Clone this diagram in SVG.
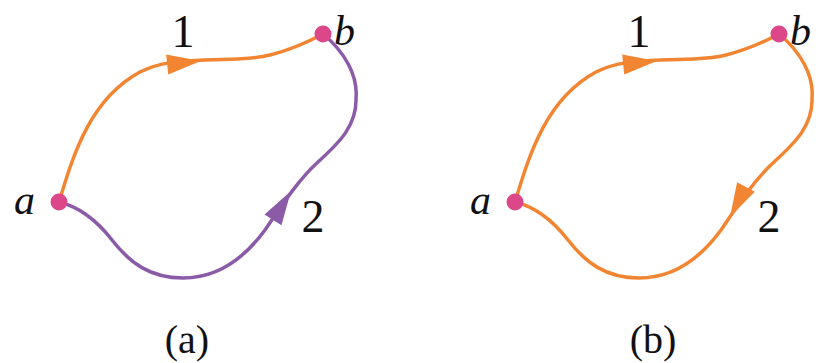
<svg xmlns="http://www.w3.org/2000/svg" width="816" height="363" viewBox="0 0 816 363">
  <style>
    .p1 { fill: none; stroke: #F28532; stroke-width: 3.5; stroke-linecap: round; }
    .p2 { fill: none; stroke: #8B5BA8; stroke-width: 3.5; stroke-linecap: round; }
    .ah1 { fill: #F28532; }
    .ah2 { fill: #8B5BA8; }
    .dot { fill: #DB4789; }
    .lbl { font-family: "Liberation Serif", "Times New Roman", serif; fill: #111; }
    .it { font-style: italic; font-size: 42px; }
    .num { font-size: 46px; text-anchor: middle; }
    .cap { font-size: 40px; text-anchor: middle; }
  </style>
  <defs>
    <path id="ah" d="M0,0 L-34,-10 L-34,10 Z"/>
    <path id="path1" d="M59,202 C72,160 88,100 140,72 C160,62 180,61 205,60 C230,59 250,60 270,55 C290,50 308,42 323,34"/>
    <path id="path2" d="M59,202 C80,207 98,222 112,240 C130,263 150,278 183,278 C215,278 243,260 265,230 C280,208 298,180 318,162 C340,142 357,125 356,98 C358,76 345,52 323,34"/>
  </defs>
  <rect width="816" height="363" fill="#ffffff"/>

  <g id="connectors">
    <g id="panel-a-connectors">
      <use href="#path1" class="p1"/>
      <use href="#ah" class="ah1" transform="translate(201,61) rotate(-6)"/>
      <use href="#path2" class="p2"/>
      <use href="#ah" class="ah2" transform="translate(291,191) rotate(-58)"/>
    </g>
    <g id="panel-b-connectors">
      <use href="#path1" class="p1" transform="translate(456,0)"/>
      <use href="#ah" class="ah1" transform="translate(657,61) rotate(-6)"/>
      <use href="#path2" class="p1" transform="translate(456,0)"/>
      <use href="#ah" class="ah1" transform="translate(730,217) rotate(118)"/>
    </g>
  </g>

  <g id="node-a-left">
    <circle class="dot" cx="59" cy="202" r="8.5"/>
    <text class="lbl it" x="14" y="214">a</text>
  </g>
  <g id="node-b-left">
    <circle class="dot" cx="323" cy="34" r="8.5"/>
    <text class="lbl it" x="334" y="45">b</text>
  </g>
  <g id="label-1-left"><text class="lbl num" x="183" y="47">1</text></g>
  <g id="label-2-left"><text class="lbl num" x="313" y="232">2</text></g>
  <g id="caption-a"><text class="lbl cap" x="187" y="353">(a)</text></g>

  <g id="node-a-right">
    <circle class="dot" cx="515" cy="202" r="8.5"/>
    <text class="lbl it" x="470" y="214">a</text>
  </g>
  <g id="node-b-right">
    <circle class="dot" cx="779" cy="34" r="8.5"/>
    <text class="lbl it" x="790" y="45">b</text>
  </g>
  <g id="label-1-right"><text class="lbl num" x="639" y="47">1</text></g>
  <g id="label-2-right"><text class="lbl num" x="769" y="232">2</text></g>
  <g id="caption-b"><text class="lbl cap" x="653" y="353">(b)</text></g>
</svg>
